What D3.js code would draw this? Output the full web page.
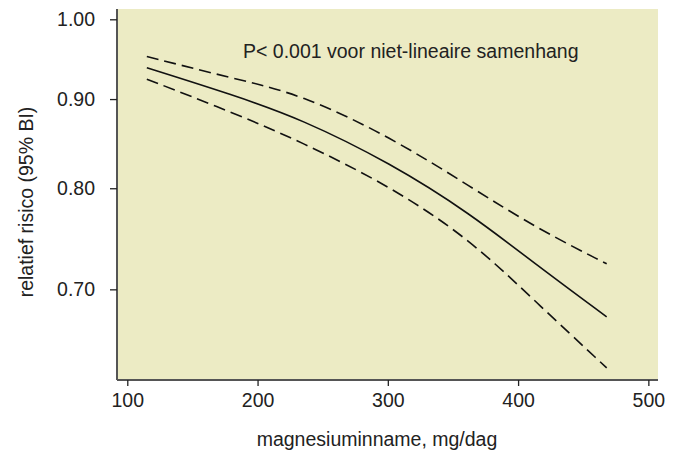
<!DOCTYPE html>
<html>
<head>
<meta charset="utf-8">
<script src="https://cdn.jsdelivr.net/npm/d3@7"></script>
<style>
  body { margin: 0; background: #fff; }
  svg text { font-family: "Liberation Sans", Arial, sans-serif; fill: #222; }
</style>
</head>
<body>
<svg id="svg" width="674" height="452"></svg>
<script>
// magnesium intake (mg/dag) and relative risk
var intake  = [115, 181, 233, 302, 363, 414, 468];
var rrMid   = [0.938, 0.905, 0.877, 0.827, 0.774, 0.723, 0.675];
var rrUpper = [0.952, 0.925, 0.906, 0.856, 0.802, 0.759, 0.724];
var rrLower = [0.924, 0.884, 0.851, 0.802, 0.748, 0.688, 0.631];

var xTicks = [100, 200, 300, 400, 500];
var yTicks = [0.70, 0.80, 0.90, 1.00];

var note = "P< 0.001 voor niet-lineaire samenhang";

var svg = d3.select("#svg");
// plot box (note: "top" is taken by window.top)
var pLeft = 117, pRight = 658, pTop = 9, pBottom = 380;
var fs = 19.5;

var x = d3.scaleLinear().domain([92.1, 507.4]).range([pLeft, pRight]);
var y = d3.scaleLog().domain([0.621, 1.0137]).range([pBottom, pTop]);

svg.append("rect")
  .attr("x", pLeft).attr("y", pTop)
  .attr("width", pRight - pLeft).attr("height", pBottom - pTop)
  .attr("fill", "#ecebc4");

// axes
var yAxis = svg.append("g")
  .attr("transform", "translate(" + pLeft + ",0)")
  .call(d3.axisLeft(y).tickValues(yTicks).tickFormat(d3.format(".2f")).tickSize(7).tickPadding(15));

var xAxis = svg.append("g")
  .attr("transform", "translate(0," + pBottom + ")")
  .call(d3.axisBottom(x).tickValues(xTicks).tickSize(6).tickPadding(7));

[xAxis, yAxis].forEach(function(g){
  g.select(".domain").attr("stroke", "#555").attr("stroke-width", 2);
  g.selectAll(".tick line").attr("stroke", "#222").attr("stroke-width", 1.3);
  g.selectAll(".tick text").attr("font-size", fs).attr("fill", "#222")
    .style("font-family", "'Liberation Sans', Arial, sans-serif");
});
// domain paths without outer ticks
yAxis.select(".domain").attr("d", "M0," + pTop + "V" + pBottom);
xAxis.select(".domain").attr("d", "M" + pLeft + ",0H" + pRight);

// lines - basis curve smooths out reading errors
var line = d3.line()
  .x(function(d){ return x(d[0]); })
  .y(function(d){ return y(d[1]); })
  .curve(d3.curveBasis);

function series(vals){ return intake.map(function(v, i){ return [v, vals[i]]; }); }

svg.append("path").datum(series(rrUpper))
  .attr("d", line).attr("fill", "none").attr("stroke", "#111")
  .attr("stroke-width", 1.6).attr("stroke-dasharray", "12,6");
svg.append("path").datum(series(rrMid))
  .attr("d", line).attr("fill", "none").attr("stroke", "#111")
  .attr("stroke-width", 1.6);
svg.append("path").datum(series(rrLower))
  .attr("d", line).attr("fill", "none").attr("stroke", "#111")
  .attr("stroke-width", 1.6).attr("stroke-dasharray", "12,6");

// texts
svg.append("text")
  .attr("x", 243).attr("y", 58)
  .attr("font-size", fs)
  .text(note);

svg.append("text")
  .attr("x", 377).attr("y", 446)
  .attr("text-anchor", "middle")
  .attr("font-size", fs)
  .text("magnesiuminname, mg/dag");

svg.append("text")
  .attr("transform", "translate(33,202) rotate(-90)")
  .attr("text-anchor", "middle")
  .attr("font-size", fs)
  .text("relatief risico (95% BI)");
</script>
</body>
</html>
